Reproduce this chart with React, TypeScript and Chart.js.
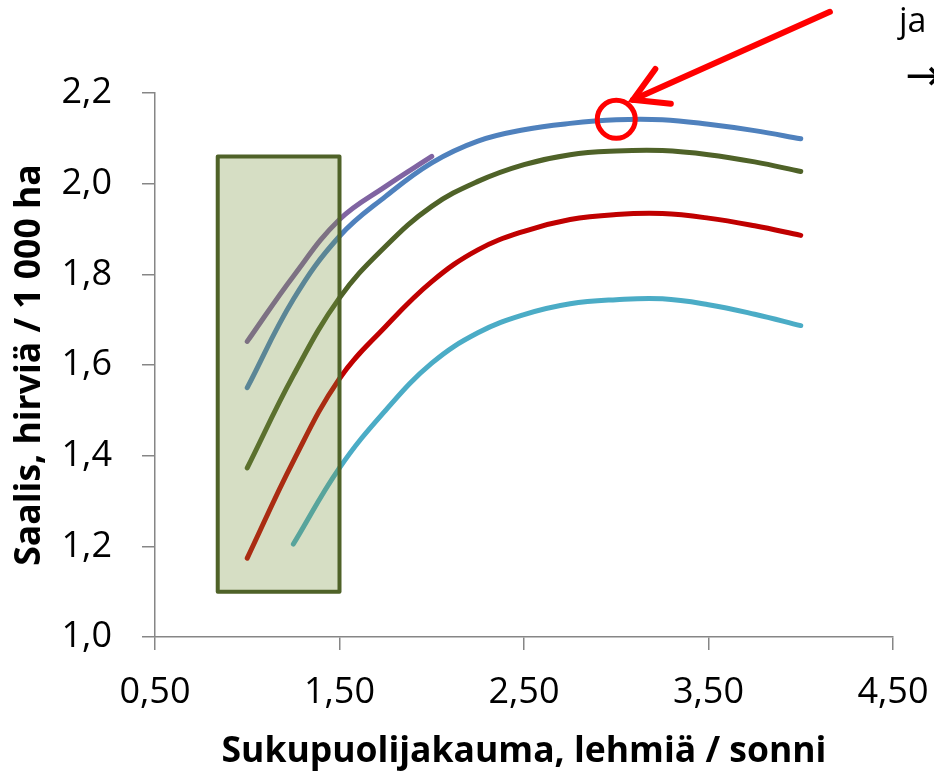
import React, { useEffect, useRef } from "react";
import { Chart, registerables } from "chart.js";

Chart.register(...registerables);

// ---- Data ----
const X_MAIN = [1.0, 1.25, 1.5, 1.75, 2.0, 2.25, 2.5, 2.75, 3.0, 3.25, 3.5, 3.75, 4.0];
const BLUE = [1.55, 1.745, 1.884, 1.972, 2.046, 2.094, 2.119, 2.133, 2.141, 2.141, 2.131, 2.117, 2.099];
const GREEN = [1.373, 1.577, 1.748, 1.862, 1.95, 2.005, 2.042, 2.064, 2.072, 2.073, 2.064, 2.048, 2.027];
const RED = [1.174, 1.388, 1.57, 1.685, 1.784, 1.854, 1.895, 1.921, 1.932, 1.934, 1.924, 1.907, 1.886];

const X_CYAN = [1.25, 1.5, 1.75, 2.0, 2.25, 2.5, 2.75, 3.0, 3.25, 3.5, 3.75, 4.0];
const CYAN = [1.205, 1.373, 1.5, 1.604, 1.671, 1.711, 1.735, 1.744, 1.746, 1.733, 1.712, 1.687];

const X_PURPLE = [1.0, 1.25, 1.5, 1.75, 2.0];
const PURPLE = [1.652, 1.796, 1.921, 1.994, 2.06];

const X_TICKS = ["0,50", "1,50", "2,50", "3,50", "4,50"];
const Y_TICKS = ["1,0", "1,2", "1,4", "1,6", "1,8", "2,0", "2,2"];

const X_TITLE = "Sukupuolijakauma, lehmiä / sonni";
const Y_TITLE = "Saalis, hirviä / 1 000 ha";

// highlighted range (box) and marked optimum
const BOX_X = [0.84, 1.5];
const BOX_Y = [1.1, 2.06];
const MARK_X = 3.0;
const MARK_Y = 2.142;
const ARROW_FROM = [4.158, 2.379];
const ARROW_TO = [3.091, 2.185];
const NOTE_TEXT = "ja";
const NOTE_ARROW = "→";

const pts = (xs: number[], ys: number[]) => xs.map((x, i) => ({ x, y: ys[i] }));

const annotationPlugin = {
  id: "annotations",
  afterDatasetsDraw(chart: any) {
    const { ctx, scales } = chart;
    const xs = scales.x;
    const ys = scales.y;
    ctx.save();
    // box
    const x0 = xs.getPixelForValue(BOX_X[0]);
    const x1 = xs.getPixelForValue(BOX_X[1]);
    const y0 = ys.getPixelForValue(BOX_Y[1]);
    const y1 = ys.getPixelForValue(BOX_Y[0]);
    ctx.fillStyle = "rgba(118,146,60,0.3)";
    ctx.fillRect(x0, y0, x1 - x0, y1 - y0);
    ctx.lineWidth = 4;
    ctx.lineJoin = "round";
    ctx.strokeStyle = "#4F6228";
    ctx.strokeRect(x0, y0, x1 - x0, y1 - y0);

    // circle
    const cx = xs.getPixelForValue(MARK_X);
    const cy = ys.getPixelForValue(MARK_Y);
    ctx.beginPath();
    ctx.arc(cx, cy, 19, 0, Math.PI * 2);
    ctx.lineWidth = 5;
    ctx.strokeStyle = "#FF0000";
    ctx.stroke();

    // arrow
    const ax = xs.getPixelForValue(ARROW_FROM[0]);
    const ay = ys.getPixelForValue(ARROW_FROM[1]);
    const tx = xs.getPixelForValue(ARROW_TO[0]);
    const ty = ys.getPixelForValue(ARROW_TO[1]);
    ctx.lineWidth = 6;
    ctx.lineCap = "round";
    ctx.lineJoin = "miter";
    ctx.beginPath();
    ctx.moveTo(ax, ay);
    ctx.lineTo(tx, ty);
    ctx.stroke();
    const ang = Math.atan2(ay - ty, ax - tx);
    const len = 38;
    ctx.beginPath();
    ctx.moveTo(tx + len * Math.cos(ang + Math.PI / 6), ty + len * Math.sin(ang + Math.PI / 6));
    ctx.lineTo(tx, ty);
    ctx.lineTo(tx + len * Math.cos(ang - Math.PI / 6), ty + len * Math.sin(ang - Math.PI / 6));
    ctx.stroke();

    // note text (cut at the right edge)
    ctx.fillStyle = "#000000";
    ctx.textBaseline = "alphabetic";
    ctx.textAlign = "left";
    ctx.font = "34px 'Open Sans'";
    ctx.fillText(NOTE_TEXT, 899, 32);
    ctx.font = "44px 'DejaVu Sans'";
    ctx.fillText(NOTE_ARROW, 905, 90);
    ctx.restore();
  },
};

const lineDs = (data: any[], color: string) => ({
  data,
  borderColor: color,
  backgroundColor: color,
  borderWidth: 5,
  pointRadius: 0,
  tension: 0.4,
  fill: false,
  borderCapStyle: "round" as const,
  borderJoinStyle: "round" as const,
});

export default function App() {
  const ref = useRef<HTMLCanvasElement>(null);
  useEffect(() => {
    document.body.style.margin = "0";
    const canvas = ref.current;
    if (!canvas) return;
    const chart = new Chart(canvas, {
      type: "line",
      data: {
        datasets: [
          lineDs(pts(X_CYAN, CYAN), "#4BACC6"),
          lineDs(pts(X_MAIN, RED), "#C00000"),
          lineDs(pts(X_MAIN, GREEN), "#4F6228"),
          lineDs(pts(X_MAIN, BLUE), "#4F81BD"),
          lineDs(pts(X_PURPLE, PURPLE), "#8064A2"),
        ],
      },
      options: {
        animation: false,
        responsive: false,
        devicePixelRatio: 1,
        layout: { padding: { top: 93, right: 41, left: 0, bottom: 0 } },
        plugins: { legend: { display: false }, tooltip: { enabled: false } },
        scales: {
          x: {
            type: "linear",
            min: 0.5,
            max: 4.5,
            afterFit: (s: any) => {
              s.height = 137;
              s.paddingLeft = 0;
              s.paddingRight = 0;
            },
            ticks: {
              stepSize: 1,
              padding: 21,
              color: "#000000",
              font: { family: "'Open Sans'", size: 36 },
              callback: (_v: any, i: number) => X_TICKS[i],
            },
            grid: { drawOnChartArea: false, drawTicks: true, tickLength: 13, color: "#868686", lineWidth: 1.5 },
            border: { color: "#868686", width: 1.5 },
            title: {
              display: true,
              text: X_TITLE,
              color: "#000000",
              font: { family: "'Open Sans'", size: 35.5, weight: "bold" },
              padding: { top: 0, bottom: 1 },
            },
          },
          y: {
            type: "linear",
            min: 1,
            max: 2.2,
            afterFit: (s: any) => {
              s.width = 155;
              s.paddingTop = 0;
              s.paddingBottom = 0;
            },
            ticks: {
              stepSize: 0.2,
              padding: 30,
              color: "#000000",
              font: { family: "'Open Sans'", size: 36 },
              callback: (_v: any, i: number) => Y_TICKS[i],
            },
            grid: { drawOnChartArea: false, drawTicks: true, tickLength: 13, color: "#868686", lineWidth: 1.5 },
            border: { color: "#868686", width: 1.5 },
            title: {
              display: true,
              text: Y_TITLE,
              color: "#000000",
              font: { family: "'Open Sans'", size: 35.5, weight: "bold" },
              padding: { top: 9, bottom: 0 },
            },
          },
        },
      },
      plugins: [annotationPlugin],
    });
    return () => chart.destroy();
  }, []);
  return (
    <div style={{ width: 934, height: 774 }}>
      <canvas ref={ref} width={934} height={774} />
    </div>
  );
}
